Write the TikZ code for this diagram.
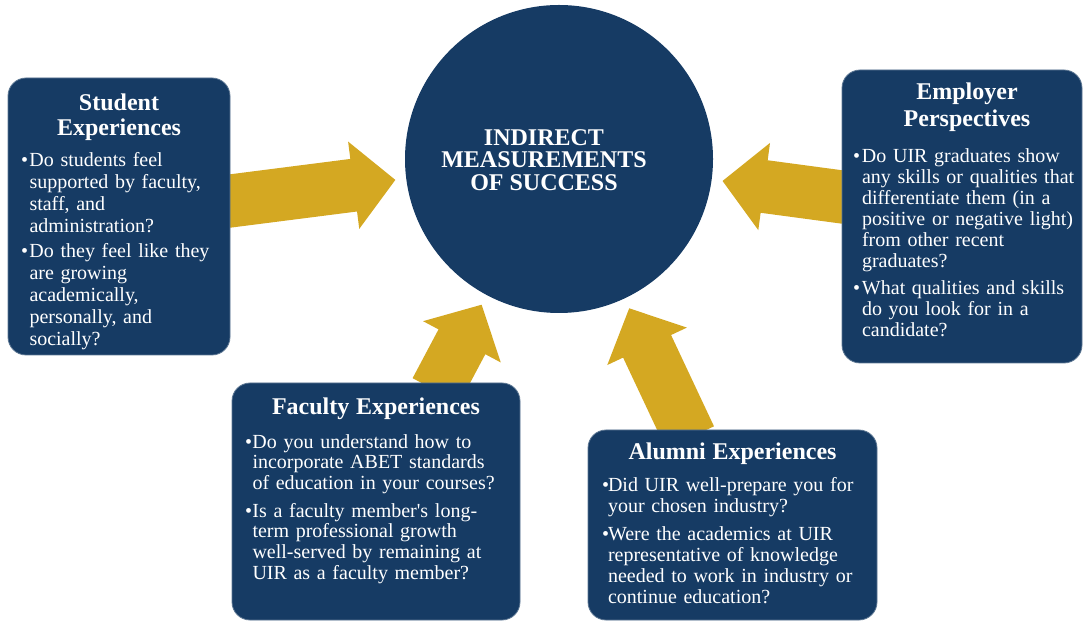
\documentclass[tikz,border=0pt]{standalone}
\usepackage{fontspec}
\setmainfont{Liberation Serif}
\usetikzlibrary{calc, backgrounds}
\definecolor{uirnavy}{RGB}{22,59,100}
\definecolor{uirgold}{RGB}{212,168,34}
\newlength{\qhang}
% box heading and bulleted question (lines broken by hand)
\newcommand{\qtitle}[2][10pt]{{\centering\fontsize{24}{25}\selectfont\bfseries #2\par}\vspace{#1}}
\newcommand{\qpoint}[1]{\par\noindent
  \makebox[\qhang][l]{\textbullet}\begin{tabular}[t]{@{}l@{}}#1\end{tabular}\par}
% wide gold arrow from tail #1 to tip #2
\newcommand{\blockarrow}[3]{%
  \coordinate (#3-neck) at ($(#2)!42pt!(#1)$);
  \fill[fatarrow] ($(#1)!26.5pt!90:(#2)$) -- ($(#3-neck)!26.5pt!-90:(#1)$)
    -- ($(#3-neck)!44pt!-90:(#1)$) -- (#2)
    -- ($(#3-neck)!44pt!90:(#1)$) -- ($(#3-neck)!26.5pt!90:(#1)$)
    -- ($(#1)!26.5pt!-90:(#2)$) -- cycle;}
\tikzset{
  qbox/.style n args={3}{rectangle, rounded corners=18pt, fill=uirnavy,
    draw=uirnavy!70!white, line width=0.8pt, text=white, align=left,
    font=\fontsize{20}{#1}\selectfont, inner xsep=#2,
    execute at begin node={\setlength{\qhang}{#3}\lineskip=0pt}},
  hub/.style={circle, fill=uirnavy, minimum size=308pt, inner sep=0pt},
  hublabel/.style={text=white, align=center,
    font=\fontsize{24}{22.5}\selectfont\bfseries},
  fatarrow/.style={fill=uirgold},
}

\begin{document}
\begin{tikzpicture}[x=1pt, y=1pt]
  \useasboundingbox (0,0) rectangle (1083,621);

  \node[hub] (hub) at (559,462) {};
  \node[hublabel] (hublabel) at (544,461) {INDIRECT\\MEASUREMENTS\\OF SUCCESS};

  \node[qbox={22pt}{13pt}{8.5pt}, minimum width=222pt, minimum height=277pt,
    text width=196pt] (student) at (119,404.5) {%
    \qtitle[9pt]{Student\\Experiences}%
    \qpoint{Do students feel\\supported by faculty,\\staff, and\\administration?}\vspace{3pt}%
    \qpoint{Do they feel like they\\are growing\\academically,\\personally, and\\socially?}%
    \vspace{-13pt}};
  \node[qbox={21pt}{11pt}{9pt}, minimum width=240pt, minimum height=293pt,
    text width=218pt] (employer) at (962,404.5) {%
    \qtitle[15pt]{\hspace*{10pt}Employer\\[2pt]\hspace*{10pt}Perspectives}%
    \qpoint{Do UIR graduates show\\any skills or qualities that\\differentiate them (in a\\positive or negative light)\\from other recent\\graduates?}\vspace{6pt}%
    \qpoint{What qualities and skills\\do you look for in a\\candidate?}%
    \vspace{7pt}};
  \node[qbox={20.5pt}{13pt}{7.5pt}, minimum width=288pt, minimum height=237pt,
    text width=262pt] (faculty) at (376,119.5) {%
    \qtitle[13.5pt]{Faculty Experiences}%
    \qpoint{Do you understand how to\\incorporate ABET standards\\of education in your courses?}\vspace{7.5pt}%
    \qpoint{Is a faculty member\textquotesingle s long-\\term professional growth\\well-served by remaining at\\UIR as a faculty member?}%
    \vspace{20pt}};
  \node[qbox={21pt}{14pt}{6pt}, minimum width=289pt, minimum height=190pt,
    text width=261pt] (alumni) at (732.5,96) {%
    \qtitle[11pt]{Alumni Experiences}%
    \qpoint{Did UIR well-prepare you for\\your chosen industry?}\vspace{7pt}%
    \qpoint{Were the academics at UIR\\representative of knowledge\\needed to work in industry or\\continue education?}%
    \vspace{-3pt}};

  % arrows run under the boxes, aimed at the circle centre
  \begin{scope}[on background layer]
    \coordinate (studtail) at ($(student.east)+(-8,14.5)$);
    \coordinate (emptail) at ($(employer.west)+(8,18.5)$);
    \coordinate (factail) at ($(faculty.north)+(60,-8)$);
    \coordinate (alumtail) at ($(alumni.north)+(-42.5,-8)$);
    \coordinate (studtip) at ($(hub.center)!165pt!(studtail)$);
    \coordinate (emptip) at ($(hub.center)!165pt!(emptail)$);
    \coordinate (factip) at ($(hub.center)!165pt!(factail)$);
    \coordinate (alumtip) at ($(hub.center)!165pt!(alumtail)$);
    \blockarrow{studtail}{studtip}{stud}
    \blockarrow{emptail}{emptip}{emp}
    \blockarrow{factail}{factip}{fac}
    \blockarrow{alumtail}{alumtip}{alum}
  \end{scope}
\end{tikzpicture}
\end{document}
